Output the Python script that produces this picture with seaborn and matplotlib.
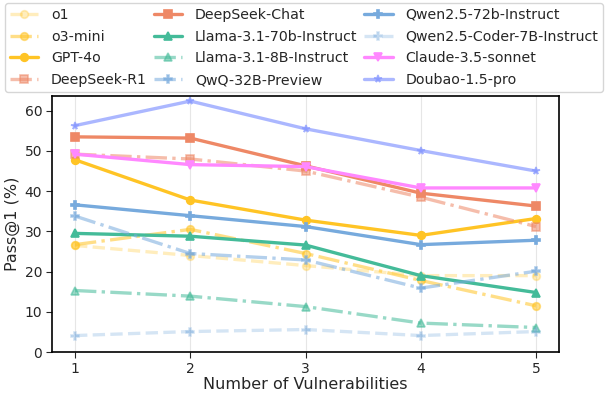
import matplotlib
matplotlib.use('Agg')
import matplotlib.pyplot as plt
import seaborn as sns

# número de vulnerabilidades
n_vulns = [1, 2, 3, 4, 5]

o1 = [26.5, 24.0, 21.5, 19.0, 19.0]
o3_mini = [26.7, 30.5, 24.5, 17.8, 11.5]
gpt_4o = [47.8, 37.8, 32.8, 29.0, 33.2]
deepseek_r1 = [49.2, 48.0, 45.0, 38.5, 31.2]
deepseek_chat = [53.5, 53.2, 46.3, 39.5, 36.3]
llama_70b = [29.5, 28.8, 26.6, 19.0, 14.8]
llama_8b = [15.3, 13.9, 11.3, 7.2, 6.1]
qwq_32b = [33.8, 24.5, 22.9, 15.9, 20.1]
qwen_72b = [36.6, 33.9, 31.2, 26.7, 27.8]
qwen_coder_7b = [4.1, 5.1, 5.6, 4.1, 5.1]
claude = [49.2, 46.6, 46.1, 40.8, 40.8]
doubao = [56.3, 62.4, 55.5, 50.1, 45.0]

series = [
    ('o1', o1, '#FFC425', '--', 'o', 0.3),
    ('o3-mini', o3_mini, '#FFC425', '-.', 'o', 0.55),
    ('GPT-4o', gpt_4o, '#FFC425', '-', 'o', 1.0),
    ('DeepSeek-R1', deepseek_r1, '#EE8866', '-.', 's', 0.55),
    ('DeepSeek-Chat', deepseek_chat, '#EE8866', '-', 's', 1.0),
    ('Llama-3.1-70b-Instruct', llama_70b, '#44BB99', '-', '^', 1.0),
    ('Llama-3.1-8B-Instruct', llama_8b, '#44BB99', '-.', '^', 0.55),
    ('QwQ-32B-Preview', qwq_32b, '#77AADD', '-.', 'P', 0.55),
    ('Qwen2.5-72b-Instruct', qwen_72b, '#77AADD', '-', 'P', 1.0),
    ('Qwen2.5-Coder-7B-Instruct', qwen_coder_7b, '#77AADD', '--', 'P', 0.3),
    ('Claude-3.5-sonnet', claude, '#FF88FF', '-', 'v', 1.0),
    ('Doubao-1.5-pro', doubao, '#8899FF', '-', '*', 0.7),
]

sns.set_style('ticks')
plt.rcParams['font.family'] = ['DejaVu Sans']

fig = plt.figure(figsize=(6.08, 3.96), dpi=100)
ax = fig.add_axes([0.0855, 0.111, 0.834, 0.647])

for name, vals, color, ls, mk, alpha in series:
    sns.lineplot(x=n_vulns, y=vals, ax=ax, color=color, linestyle=ls, marker=mk,
                 linewidth=2.4, markersize=5.5, alpha=alpha, label=name,
                 markerfacecolor=matplotlib.colors.to_rgba(color, 0.35),
                 markeredgecolor=color, markeredgewidth=1.2)

ax.set_xlim(0.8, 5.2)
ax.set_ylim(0, 63.7)
ax.set_xticks(n_vulns)
ax.set_yticks([0, 10, 20, 30, 40, 50, 60])
ax.grid(axis='x', color='#e6e6e6', linewidth=0.8)
ax.set_axisbelow(True)
for s in ax.spines.values():
    s.set_visible(True)
    s.set_color('black')
    s.set_linewidth(1.2)
ax.tick_params(labelsize=10, length=4, pad=3)
ax.set_xlabel('Number of Vulnerabilities', fontsize=11.5, labelpad=1)
ax.set_ylabel('Pass@1 (%)', fontsize=11.5, labelpad=3)

handles, labels = ax.get_legend_handles_labels()
ax.get_legend().remove()
fig.legend(handles, labels, loc='upper left', bbox_to_anchor=(0.008, 0.993, 0.984, 0.0),
           mode='expand', ncol=3,
           fontsize=10.2, frameon=True, handlelength=2.0, columnspacing=0.2,
           handletextpad=0.9, labelspacing=0.55, borderaxespad=0.0, borderpad=0.35)

plt.savefig('out.png', dpi=100)
